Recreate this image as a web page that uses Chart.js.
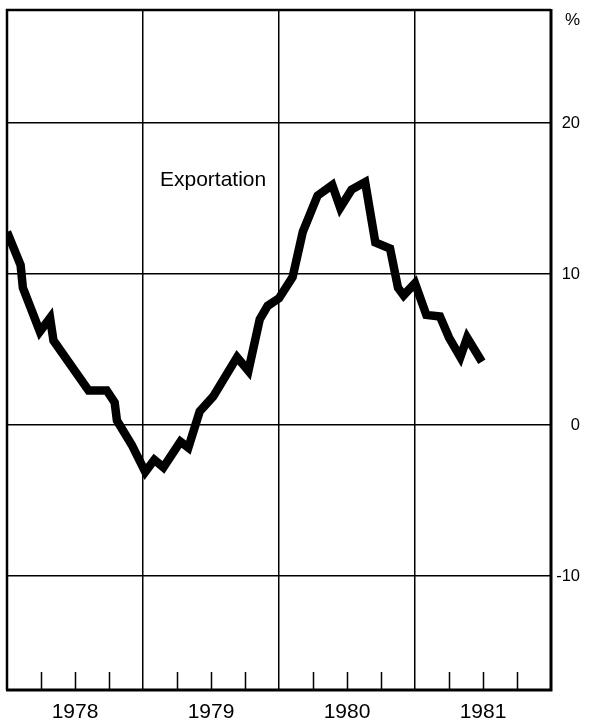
<!DOCTYPE html>
<html>
<head>
<meta charset="utf-8">
<script src="https://cdn.jsdelivr.net/npm/chart.js@4/dist/chart.umd.min.js"></script>
<style>
  html, body { margin: 0; padding: 0; background: #fff; }
  #wrap { width: 598px; height: 725px; }
</style>
</head>
<body>
<div id="wrap"><canvas id="chart"></canvas></div>
<script>
// Months counted from January 1978
const months = [0, 1.2, 1.4, 2.9, 3.8, 4.1, 7.2, 8.8, 9.5, 9.7, 11, 12.2, 13, 13.8, 15.3, 16, 17, 18.2,
  20.3, 21.3, 22.3, 23, 24, 25.2, 26.1, 27.4, 28.7, 29.4, 30.4, 31.6, 32.5, 33.8, 34.5, 35, 36,
  37, 38.2, 39, 40, 40.6, 41.9];

// Export growth, %
const exportation = [12.8, 10.6, 9.1, 6.2, 7.1, 5.6, 2.3, 2.3, 1.5, 0.3, -1.3, -3.1, -2.3, -2.8, -1.1, -1.5, 0.9, 1.9,
  4.5, 3.6, 7.0, 7.9, 8.4, 9.8, 12.8, 15.2, 15.9, 14.4, 15.6, 16.1, 12.1, 11.7, 9.1, 8.6, 9.4,
  7.3, 7.2, 5.8, 4.5, 5.8, 4.2];

const years = ['1978', '1979', '1980', '1981'];
const quarterTicks = [3, 6, 9, 15, 18, 21, 27, 30, 33, 39, 42, 45];
const seriesLabel = 'Exportation';

const FONT = '"Liberation Sans", Arial, sans-serif';

// Frame, inner quarter ticks and the texts that are not axis labels
const decorations = {
  id: 'decorations',
  beforeDatasetsDraw(chart) {
    const ctx = chart.ctx;
    const a = chart.chartArea;
    const x = chart.scales.x;
    ctx.save();
    ctx.strokeStyle = '#000';
    ctx.lineWidth = 1.5;
    ctx.beginPath();
    quarterTicks.forEach(m => {
      const px = Math.round(x.getPixelForValue(m)) + 0.5;
      ctx.moveTo(px, a.bottom);
      ctx.lineTo(px, a.bottom - 18);
    });
    ctx.stroke();
    ctx.restore();
  },
  afterDraw(chart) {
    const ctx = chart.ctx;
    const a = chart.chartArea;
    const x = chart.scales.x, y = chart.scales.y;
    ctx.save();
    ctx.strokeStyle = '#000';
    // left & top thinner, right & bottom heavier
    ctx.lineWidth = 2.5;
    ctx.beginPath();
    ctx.moveTo(a.left, a.bottom);
    ctx.lineTo(a.left, a.top);
    ctx.lineTo(a.right, a.top);
    ctx.stroke();
    ctx.lineWidth = 3;
    ctx.beginPath();
    ctx.moveTo(a.right, a.top - 1);
    ctx.lineTo(a.right, a.bottom);
    ctx.lineTo(a.left - 1, a.bottom);
    ctx.stroke();

    ctx.fillStyle = '#000';
    ctx.font = '17px ' + FONT;
    ctx.textAlign = 'right';
    ctx.textBaseline = 'middle';
    ctx.fillText('%', y.right, a.top + 10);

    ctx.font = '21px ' + FONT;
    ctx.textAlign = 'left';
    ctx.fillText(seriesLabel, x.getPixelForValue(13.5), y.getPixelForValue(16.2));
    ctx.restore();
  }
};

new Chart(document.getElementById('chart'), {
  type: 'line',
  data: {
    datasets: [{
      label: seriesLabel,
      data: months.map((m, i) => ({ x: m, y: exportation[i] })),
      borderColor: '#000',
      borderWidth: 8.5,
      borderJoinStyle: 'miter',
      pointRadius: 0,
      tension: 0,
      fill: false
    }]
  },
  options: {
    responsive: true,
    maintainAspectRatio: false,
    animation: false,
    layout: { padding: { left: 7, top: 10, right: 18, bottom: 0 } },
    plugins: {
      legend: { display: false },
      tooltip: { enabled: false }
    },
    scales: {
      x: {
        type: 'linear',
        min: 0,
        max: 48,
        border: { display: false },
        grid: {
          drawTicks: false,
          lineWidth: 1.5,
          color: (c) => (c.tick && c.tick.value % 12 === 0) ? '#000' : 'rgba(0,0,0,0)'
        },
        ticks: {
          stepSize: 6,
          autoSkip: false,
          maxRotation: 0,
          padding: 9.5,
          color: '#000',
          font: { family: FONT, size: 21 },
          callback: (v) => (v % 12 === 6) ? years[(v - 6) / 12] : ''
        },
        // fixed band under the plot, no side padding
        afterFit: (s) => { s.height = 35; s.paddingLeft = 0; s.paddingRight = 0; }
      },
      y: {
        position: 'right',
        min: -17.55,
        max: 27.5,
        border: { display: false },
        grid: { drawTicks: false, lineWidth: 1.5, color: '#000' },
        ticks: {
          stepSize: 10,
          includeBounds: false,
          crossAlign: 'far',
          padding: 4,
          color: '#000',
          font: { family: FONT, size: 16.5 }
        },
        afterFit: (s) => { s.width = 29; s.paddingTop = 0; s.paddingBottom = 0; }
      }
    }
  },
  plugins: [decorations]
});
</script>
</body>
</html>
